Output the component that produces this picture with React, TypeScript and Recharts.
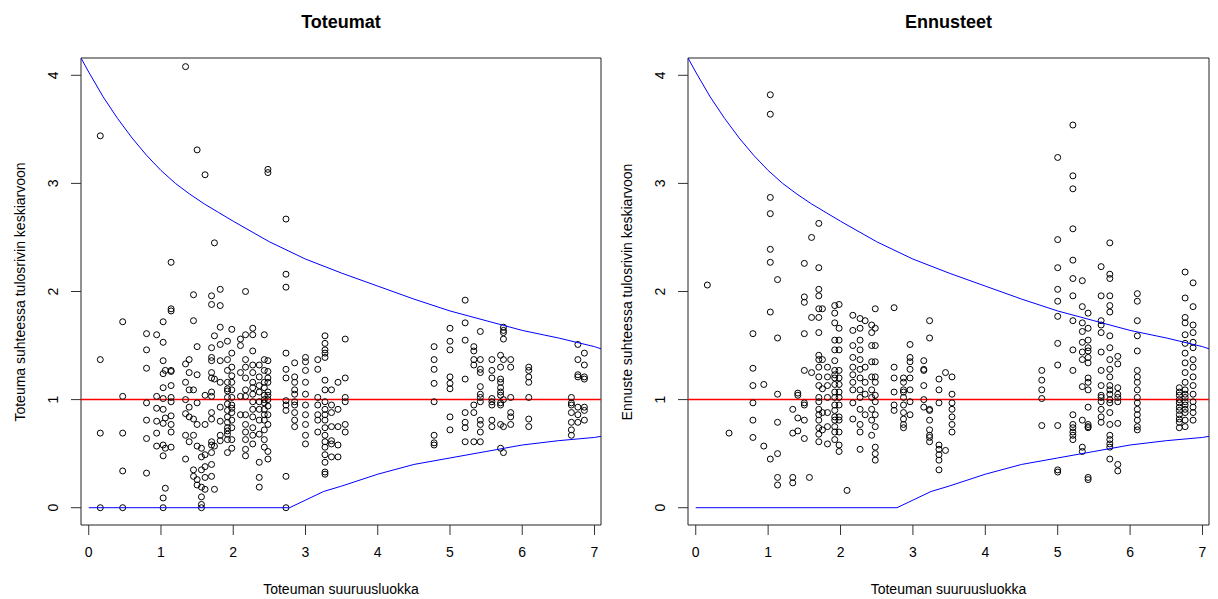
import React from 'react';
import { ScatterChart, Scatter, XAxis, YAxis, ReferenceArea, ReferenceLine } from 'recharts';

const X_MIN = -0.107;
const X_MAX = 7.09;
const Y_MIN = -0.16;
const Y_MAX = 4.16;
const xTicks = [0, 1, 2, 3, 4, 5, 6, 7];
const yTicks = [0, 1, 2, 3, 4];

const panelTitles = ['Toteumat', 'Ennusteet'];
const yLabels = ['Toteuma suhteessa tulosrivin keskiarvoon', 'Ennuste suhteessa tulosrivin keskiarvoon'];
const xLabel = 'Toteuman suuruusluokka';
const refValue = 1;

// upper and lower bound curves
const upperX = [-0.107, 0, 0.2, 0.4, 0.6, 0.8, 1.0, 1.2, 1.4, 1.6, 1.8, 2.0, 2.5, 3.0, 3.5, 4.0, 4.5, 5.0, 5.5, 6.0, 6.5, 7.0, 7.09];
const upperY = [4.16, 4.03, 3.8, 3.6, 3.42, 3.26, 3.12, 3.0, 2.9, 2.81, 2.73, 2.65, 2.46, 2.3, 2.17, 2.05, 1.93, 1.82, 1.73, 1.64, 1.57, 1.49, 1.47];
const lowerX = [0, 2.78, 3.0, 3.25, 3.5, 4.0, 4.5, 5.0, 5.5, 6.0, 6.5, 7.0, 7.09];
const lowerY = [0, 0, 0.07, 0.15, 0.2, 0.31, 0.4, 0.46, 0.52, 0.58, 0.62, 0.65, 0.66];

// Toteumat (actuals): column x positions and the y values in each column
const actualColX = [0.16, 0.47, 0.8, 0.94, 1.03, 1.06, 1.14, 1.34, 1.39, 1.45, 1.5, 1.56, 1.61, 1.7, 1.74, 1.82, 1.92, 1.98, 2.1, 2.17, 2.27, 2.36, 2.43, 2.48, 2.73, 2.85, 3.0, 3.17, 3.27, 3.36, 3.45, 3.55, 4.78, 5.0, 5.21, 5.33, 5.42, 5.58, 5.7, 5.74, 5.84, 6.09, 6.68, 6.77, 6.86];
const actualColY = [
  [3.44, 1.37, 0.69, 0],
  [1.72, 1.03, 0.69, 0.34, 0],
  [1.61, 1.46, 1.29, 0.97, 0.81, 0.64, 0.32],
  [1.6, 1.03, 0.92, 0.8, 0.69, 0.57],
  [1.72, 1.53, 1.36, 1.24, 1.11, 1.01, 0.91, 0.78, 0.58, 0.48, 0.09, 0],
  [1.27, 0.83, 0.55, 0.18],
  [2.27, 1.84, 1.82, 1.27, 1.26, 1.13, 1.02, 0.98, 0.85, 0.77, 0.7, 0.56],
  [4.08, 1.33, 1.16, 1.0, 0.87, 0.67, 0.45],
  [1.37, 1.25, 1.09, 0.93, 0.84, 0.61],
  [1.97, 1.73, 1.09, 0.82, 0.67, 0.35, 0.29],
  [3.31, 1.49, 1.23, 0.97, 0.77, 0.57, 0.26, 0.21],
  [0.55, 0.47, 0.35, 0.19, 0.1, 0.03, 0],
  [3.08, 1.04, 0.77, 0.49, 0.38, 0.28, 0.17],
  [1.96, 1.88, 1.48, 1.39, 1.36, 1.25, 1.2, 1.07, 1.03, 0.88, 0.82, 0.61, 0.58, 0.51, 0.4, 0.29],
  [2.45, 1.59, 1.19, 0.57, 0.17],
  [2.02, 1.87, 1.67, 1.51, 1.36, 1.16, 0.93, 0.8, 0.67, 0.62],
  [1.54, 1.37, 1.27, 1.16, 1.1, 1.02, 0.96, 0.9, 0.84, 0.79, 0.74, 0.68, 0.63, 0.51, 1.08, 0.71],
  [1.65, 1.43, 1.3, 1.16, 1.09, 1.02, 0.95, 0.88, 0.81, 0.74, 0.63, 0.55, 1.22, 0.92],
  [1.56, 1.5, 1.25, 1.03, 0.86],
  [2.0, 1.6, 1.37, 1.3, 1.2, 1.09, 1.03, 0.86, 0.77, 0.7, 0.63, 0.54, 0.48],
  [1.66, 1.6, 1.45, 1.32, 1.25, 1.16, 1.11, 1.05, 0.98, 0.91, 0.84, 0.74, 0.67, 0.59],
  [1.32, 1.21, 1.13, 1.07, 0.98, 0.91, 0.81, 0.68, 0.42, 0.28, 0.19],
  [1.6, 1.37, 1.27, 1.16, 1.11, 1.04, 1.0, 0.97, 0.91, 0.86, 0.81, 0.72, 0.63, 0.56],
  [3.13, 3.1, 1.36, 1.26, 1.2, 1.16, 1.07, 1.04, 1.0, 0.94, 0.86, 0.77, 0.52, 0.45],
  [2.67, 2.16, 2.04, 1.43, 1.28, 1.2, 0.99, 0.95, 0.9, 0.29, 0],
  [1.34, 1.21, 1.16, 1.09, 1.05, 0.98, 0.95, 0.88, 0.81, 0.75],
  [1.39, 1.35, 1.27, 1.16, 1.05, 0.95, 0.86, 0.77, 0.67, 0.59],
  [1.37, 1.28, 1.02, 0.95, 0.86, 0.81, 0.7],
  [1.59, 1.52, 1.46, 1.43, 1.39, 1.18, 1.09, 0.98, 0.91, 0.86, 0.81, 0.74, 0.67, 0.61, 0.56, 0.49, 0.42, 0.33, 0.31],
  [1.09, 0.95, 0.88, 0.75, 0.62, 0.59, 0.47],
  [1.16, 0.91, 0.75, 0.58, 0.47],
  [1.56, 1.2, 1.02, 0.98, 0.77, 0.7],
  [1.49, 1.37, 1.28, 1.15, 0.98, 0.67, 0.6, 0.58],
  [1.66, 1.54, 1.46, 1.21, 1.15, 1.1, 0.84, 0.72],
  [1.92, 1.71, 1.55, 1.19, 0.88, 0.79, 0.74, 0.61],
  [1.49, 1.45, 1.37, 1.32, 0.95, 0.88, 0.61],
  [1.63, 1.37, 1.28, 1.25, 1.12, 1.05, 1.02, 0.98, 0.81, 0.77, 0.7, 0.61],
  [1.37, 1.27, 1.2, 1.01, 0.98, 0.95, 0.81, 0.75],
  [1.41, 1.3, 1.19, 1.16, 1.11, 1.07, 1.04, 0.97, 0.95, 0.77, 0.55],
  [1.67, 1.64, 1.62, 1.56, 1.37, 1.0, 0.75, 0.51],
  [1.37, 1.3, 1.02, 0.88, 0.84, 0.77],
  [1.3, 1.27, 1.21, 1.16, 1.02, 0.82, 0.75],
  [1.02, 0.97, 0.95, 0.88, 0.79, 0.72, 0.67],
  [1.51, 1.37, 1.23, 1.21, 0.93, 0.86, 0.79],
  [1.43, 1.32, 1.21, 1.19, 0.93, 0.9, 0.81],
];

// Ennusteet (forecasts)
const forecastColX = [0.16, 0.46, 0.79, 0.94, 1.03, 1.13, 1.34, 1.41, 1.5, 1.57, 1.6, 1.7, 1.75, 1.82, 1.92, 1.98, 2.09, 2.17, 2.27, 2.34, 2.43, 2.48, 2.74, 2.87, 2.96, 3.15, 3.23, 3.36, 3.45, 3.54, 4.78, 5.0, 5.21, 5.34, 5.42, 5.6, 5.72, 5.83, 6.1, 6.68, 6.76, 6.87];
const forecastColY = [
  [2.06],
  [0.69],
  [1.61, 1.29, 1.13, 0.97, 0.81, 0.65],
  [1.14, 0.57],
  [3.82, 3.64, 2.87, 2.72, 2.39, 2.27, 1.81, 0.45],
  [2.11, 1.57, 1.05, 0.79, 0.5, 0.28, 0.21],
  [0.91, 0.69, 0.28, 0.23],
  [1.06, 1.04, 0.83, 0.71],
  [2.26, 1.95, 1.9, 1.61, 1.27, 0.97, 0.95, 0.81, 0.64],
  [0.28],
  [2.5, 1.76, 1.25],
  [2.63, 2.22, 2.02, 1.96, 1.84, 1.76, 1.62, 1.41, 1.37, 1.3, 1.21, 1.13, 1.02, 0.98, 0.91, 0.86, 0.81, 0.74, 0.68, 0.61],
  [1.84, 1.37, 1.1, 0.88, 0.72],
  [1.3, 1.21, 1.13, 1.02, 0.88, 0.75, 0.59],
  [1.87, 1.8, 1.71, 1.55, 1.46, 1.36, 1.27, 1.23, 1.2, 1.14, 1.07, 1.02, 0.95, 0.9, 0.84, 0.81, 0.75, 0.7, 0.63],
  [1.88, 1.66, 1.55, 1.46, 1.27, 1.2, 1.14, 1.07, 1.02, 0.95, 0.84, 0.81, 0.7, 0.58, 0.52],
  [0.16],
  [1.78, 1.64, 1.5, 1.39, 1.3, 1.23, 1.16, 1.09, 0.97, 0.82],
  [1.75, 1.66, 1.55, 1.46, 1.37, 1.28, 1.2, 1.09, 1.02, 0.91, 0.77, 0.7, 0.54],
  [1.73, 1.3, 1.16, 1.05, 0.86],
  [1.69, 1.62, 1.5, 1.35, 1.21, 1.09, 1.02, 0.91, 0.81, 0.67],
  [1.84, 1.66, 1.5, 1.35, 1.21, 1.16, 1.04, 0.98, 0.86, 0.75, 0.56, 0.5, 0.44],
  [1.85, 1.3, 1.2, 1.07, 0.95, 0.9],
  [1.2, 1.16, 1.09, 1.07, 1.02, 0.95, 0.88, 0.82, 0.77, 0.74],
  [1.51, 1.39, 1.35, 1.28, 1.2, 1.09, 0.98, 0.86],
  [1.36, 1.28, 1.27, 1.13, 1.0, 0.93],
  [1.73, 1.57, 0.91, 0.9, 0.81, 0.72, 0.67, 0.65, 0.61],
  [1.19, 1.09, 0.97, 0.58, 0.54, 0.49, 0.44, 0.35],
  [1.25, 0.53],
  [1.21, 1.05, 0.97, 0.91, 0.84, 0.77, 0.7],
  [1.27, 1.18, 1.09, 1.01, 0.76],
  [3.24, 2.48, 2.22, 2.02, 1.91, 1.77, 1.52, 1.32, 0.76, 0.35, 0.33],
  [3.54, 3.07, 2.95, 2.58, 2.29, 2.12, 1.96, 1.73, 1.46, 1.27, 0.86, 0.77, 0.74, 0.7, 0.67, 0.63],
  [2.1, 1.86, 1.71, 1.63, 1.53, 1.44, 1.37, 1.12, 0.81, 0.56, 0.52],
  [1.8, 1.66, 1.55, 1.48, 1.45, 1.39, 1.34, 1.2, 1.16, 1.09, 0.93, 0.77, 0.75, 0.74, 0.28, 0.26],
  [2.23, 1.96, 1.73, 1.69, 1.62, 1.44, 1.27, 1.13, 1.04, 1.02, 0.98, 0.91, 0.84, 0.79],
  [2.45, 2.16, 2.12, 1.96, 1.87, 1.81, 1.59, 1.48, 1.37, 1.28, 1.21, 1.13, 1.09, 1.05, 1.0, 0.97, 0.88, 0.77, 0.67, 0.63, 0.59, 0.56, 0.45],
  [1.4, 1.33, 1.11, 1.05, 1.02, 0.98, 0.78, 0.4, 0.34],
  [1.98, 1.91, 1.73, 1.59, 1.45, 1.27, 1.21, 1.16, 1.09, 1.02, 0.97, 0.91, 0.86, 0.81, 0.75, 0.72],
  [1.11, 1.07, 1.04, 1.0, 0.97, 0.93, 0.9, 0.86, 0.82, 0.79, 0.74],
  [2.18, 1.94, 1.76, 1.71, 1.6, 1.52, 1.43, 1.34, 1.25, 1.16, 1.09, 1.05, 1.02, 0.98, 0.95, 0.91, 0.88, 0.81, 0.75],
  [2.08, 1.86, 1.69, 1.62, 1.53, 1.48, 1.37, 1.3, 1.21, 1.13, 1.05, 0.98, 0.93, 0.88, 0.81],
];

const FONT = '"Liberation Sans", Arial, sans-serif';

function columnsToPoints(xs: number[], ys: number[][]) {
  const out: { x: number; y: number }[] = [];
  xs.forEach((x, i) => ys[i].forEach((y) => out.push({ x, y })));
  return out;
}
function pairs(xs: number[], ys: number[]) {
  return xs.map((x, i) => ({ x, y: ys[i] }));
}

const upperData = pairs(upperX, upperY);
const lowerData = pairs(lowerX, lowerY);

const Circle = (p: any) => (
  <circle cx={p.cx} cy={p.cy} r={3} fill="none" stroke="#000" strokeWidth={1} />
);
const NoShape = () => <g />;

const XTick = (p: any) => (
  <text x={p.x} y={p.y} textAnchor="middle" dominantBaseline="central" fontSize={14} fontFamily={FONT} fill="#000">
    {p.payload.value}
  </text>
);
const YTick = (p: any) => (
  <text
    x={p.x}
    y={p.y}
    textAnchor="middle"
    dominantBaseline="central"
    fontSize={14}
    fontFamily={FONT}
    fill="#000"
    transform={`rotate(-90 ${p.x} ${p.y})`}
  >
    {p.payload.value}
  </text>
);

function Panel(props: { left: number; width: number; right: number; title: string; yLabel: string; points: { x: number; y: number }[] }) {
  const { left, width, right, title, yLabel, points } = props;
  const plotLeft = 81;
  const plotRight = width - right;
  const plotW = plotRight - plotLeft;
  return (
    <div style={{ position: 'absolute', left, top: 0, width, height: 599 }}>
      <ScatterChart width={width} height={599} margin={{ top: 58, right, bottom: 0, left: 0 }}>
        <XAxis
          type="number"
          dataKey="x"
          domain={[X_MIN, X_MAX]}
          allowDataOverflow
          ticks={xTicks}
          interval={0}
          height={74}
          tickSize={10}
          tickMargin={17}
          axisLine={false}
          tickLine={{ stroke: '#333' }}
          tick={XTick}
        />
        <YAxis
          type="number"
          dataKey="y"
          domain={[Y_MIN, Y_MAX]}
          allowDataOverflow
          ticks={yTicks}
          interval={0}
          width={81}
          tickSize={10}
          tickMargin={18}
          axisLine={false}
          tickLine={{ stroke: '#333' }}
          tick={YTick}
        />
        <ReferenceArea x1={X_MIN} x2={X_MAX} y1={Y_MIN} y2={Y_MAX} fill="none" fillOpacity={0} stroke="#222" strokeWidth={1} ifOverflow="visible" />
        <Scatter data={points} shape={Circle} isAnimationActive={false} />
        <Scatter data={upperData} line={{ stroke: '#0000ff', strokeWidth: 1 }} shape={NoShape} isAnimationActive={false} />
        <Scatter data={lowerData} line={{ stroke: '#0000ff', strokeWidth: 1 }} shape={NoShape} isAnimationActive={false} />
        <ReferenceLine y={refValue} stroke="#ff0000" strokeWidth={1.5} ifOverflow="visible" />
      </ScatterChart>
      <div style={{ position: 'absolute', left: plotLeft, width: plotW, top: 11, lineHeight: '22px', textAlign: 'center', fontFamily: FONT, fontWeight: 'bold', fontSize: 18, color: '#000' }}>
        {title}
      </div>
      <div style={{ position: 'absolute', left: plotLeft, width: plotW, top: 581, lineHeight: '16px', textAlign: 'center', fontFamily: FONT, fontSize: 14, color: '#000' }}>
        {xLabel}
      </div>
      <div style={{ position: 'absolute', left: 20 - 200, top: 291.5 - 8, width: 400, height: 16, lineHeight: '16px', textAlign: 'center', fontFamily: FONT, fontSize: 14, color: '#000', transform: 'rotate(-90deg)', whiteSpace: 'nowrap' }}>
        {yLabel}
      </div>
    </div>
  );
}

export default function App() {
  const actualPoints = columnsToPoints(actualColX, actualColY);
  const forecastPoints = columnsToPoints(forecastColX, forecastColY);
  return (
    <div style={{ position: 'absolute', left: 0, top: 0, width: 1218, height: 599, background: '#fff', overflow: 'hidden' }}>
      <Panel left={0} width={607} right={6} title={panelTitles[0]} yLabel={yLabels[0]} points={actualPoints} />
      <Panel left={607} width={611} right={9} title={panelTitles[1]} yLabel={yLabels[1]} points={forecastPoints} />
    </div>
  );
}
